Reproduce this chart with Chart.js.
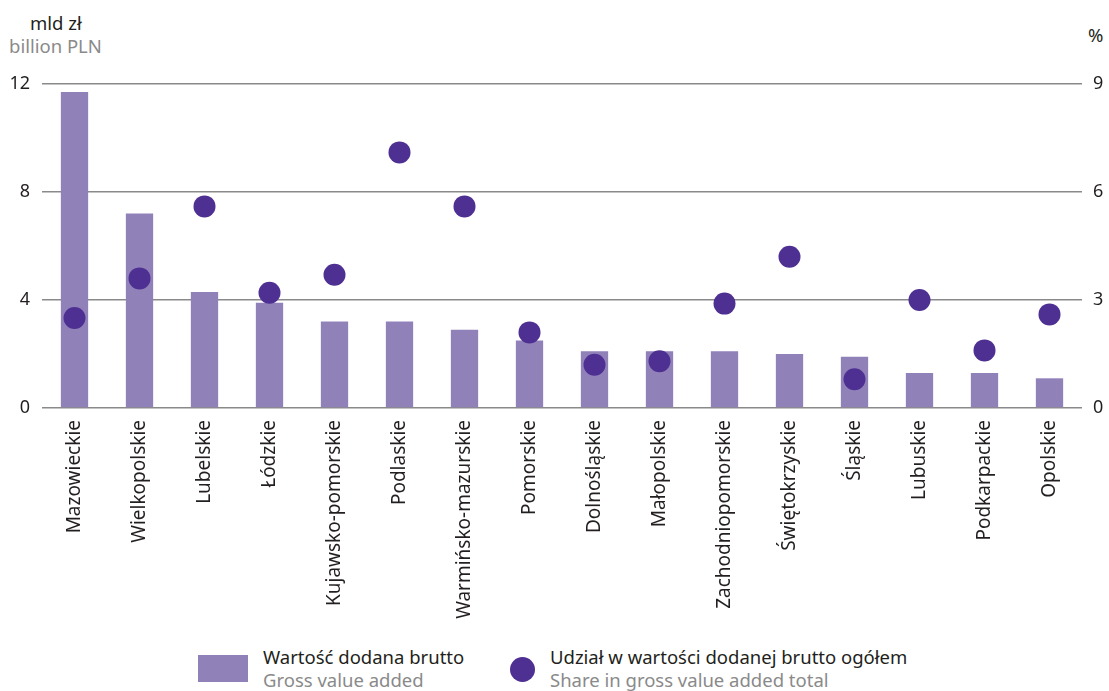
<!DOCTYPE html>
<html lang="pl">
<head>
    <meta charset="UTF-8">
    <title>Wartość dodana brutto</title>
    <script src="https://cdn.jsdelivr.net/npm/chart.js"></script>
    <style>
        body {
            margin: 0;
            background-color: #ffffff;
            font-family: "Noto Sans", Arial, sans-serif;
            width: 1109px;
            height: 691px;
            position: relative;
            overflow: hidden;
        }
        .chart-box {
            position: absolute;
            left: 0;
            top: 0;
            width: 1109px;
            height: 620px;
        }
        .unit {
            position: absolute;
            font-size: 18.5px;
            line-height: 23px;
        }
        .unit .pl { color: #231f20; }
        .unit .en { color: #8a8a8a; }
        .legend-item {
            position: absolute;
            top: 645px;
            font-size: 18.5px;
            line-height: 23px;
        }
        .legend-item .pl { color: #231f20; }
        .legend-item .en { color: #8a8a8a; }
        .swatch-bar {
            position: absolute;
            left: 198px;
            top: 655px;
            width: 50px;
            height: 27px;
            background-color: #9181b9;
        }
        .swatch-dot {
            position: absolute;
            left: 510px;
            top: 657px;
            width: 25px;
            height: 25px;
            border-radius: 50%;
            background-color: #4e2f92;
        }
    </style>
</head>
<body>
    <div class="unit" style="left:30px; top:11px;">
        <div class="pl">mld zł</div>
        <div class="en" style="margin-left:-21px;">billion PLN</div>
    </div>
    <div class="unit" style="left:1088px; top:23px;"><div class="pl">%</div></div>

    <div class="chart-box">
        <canvas id="gvaChart" width="1109" height="620"></canvas>
    </div>

    <div class="swatch-bar"></div>
    <div class="legend-item" style="left:263px;">
        <div class="pl">Wartość dodana brutto</div>
        <div class="en">Gross value added</div>
    </div>
    <div class="swatch-dot"></div>
    <div class="legend-item" style="left:550px;">
        <div class="pl">Udział w wartości dodanej brutto ogółem</div>
        <div class="en">Share in gross value added total</div>
    </div>

    <script>
        const regions = ['Mazowieckie', 'Wielkopolskie', 'Lubelskie', 'Łódzkie', 'Kujawsko-pomorskie',
            'Podlaskie', 'Warmińsko-mazurskie', 'Pomorskie', 'Dolnośląskie', 'Małopolskie',
            'Zachodniopomorskie', 'Świętokrzyskie', 'Śląskie', 'Lubuskie', 'Podkarpackie', 'Opolskie'];
        // mld zł
        const grossValueAdded = [11.7, 7.2, 4.3, 3.9, 3.2, 3.2, 2.9, 2.5, 2.1, 2.1, 2.1, 2.0, 1.9, 1.3, 1.3, 1.1];
        // %
        const shareInTotal = [2.5, 3.6, 5.6, 3.2, 3.7, 7.1, 5.6, 2.1, 1.2, 1.3, 2.9, 4.2, 0.8, 3.0, 1.6, 2.6];
        const leftTicks = [0, 4, 8, 12];
        const rightTicks = [0, 3, 6, 9];

        const tickFont = { family: '"Noto Sans", Arial, sans-serif', size: 18 };

        const ctx = document.getElementById('gvaChart').getContext('2d');
        new Chart(ctx, {
            type: 'bar',
            data: {
                labels: regions,
                datasets: [
                    {
                        type: 'line',
                        label: 'Udział w wartości dodanej brutto ogółem',
                        data: shareInTotal,
                        yAxisID: 'yRight',
                        showLine: false,
                        pointRadius: 11,
                        pointHoverRadius: 11,
                        pointBackgroundColor: '#4e2f92',
                        pointBorderWidth: 0,
                        order: 0
                    },
                    {
                        type: 'bar',
                        label: 'Wartość dodana brutto',
                        data: grossValueAdded,
                        yAxisID: 'yLeft',
                        backgroundColor: '#9181b9',
                        barPercentage: 0.42,
                        categoryPercentage: 1.0,
                        order: 1
                    }
                ]
            },
            options: {
                responsive: false,
                animation: false,
                layout: { padding: { top: 84, left: 0, right: 0, bottom: 0 } },
                plugins: {
                    legend: { display: false },
                    tooltip: { enabled: false }
                },
                scales: {
                    x: {
                        grid: { display: false, drawTicks: false },
                        border: { display: false },
                        ticks: {
                            minRotation: 90,
                            maxRotation: 90,
                            autoSkip: false,
                            padding: 12,
                            color: '#231f20',
                            font: { family: '"Noto Sans", Arial, sans-serif', size: 19 }
                        },
                        afterFit: scale => { scale.height = 212; }
                    },
                    yLeft: {
                        position: 'left',
                        min: 0,
                        max: 12,
                        afterBuildTicks: scale => { scale.ticks = leftTicks.map(v => ({ value: v })); },
                        grid: { color: '#8a8a8a', lineWidth: 1.5, drawTicks: false },
                        border: { display: false },
                        ticks: { padding: 12, color: '#231f20', font: tickFont },
                        afterFit: scale => { scale.width = 42; }
                    },
                    yRight: {
                        position: 'right',
                        min: 0,
                        max: 9,
                        afterBuildTicks: scale => { scale.ticks = rightTicks.map(v => ({ value: v })); },
                        grid: { display: false, drawTicks: false },
                        border: { display: false },
                        ticks: { padding: 11, color: '#231f20', font: tickFont },
                        afterFit: scale => { scale.width = 27; }
                    }
                }
            }
        });
    </script>
</body>
</html>
